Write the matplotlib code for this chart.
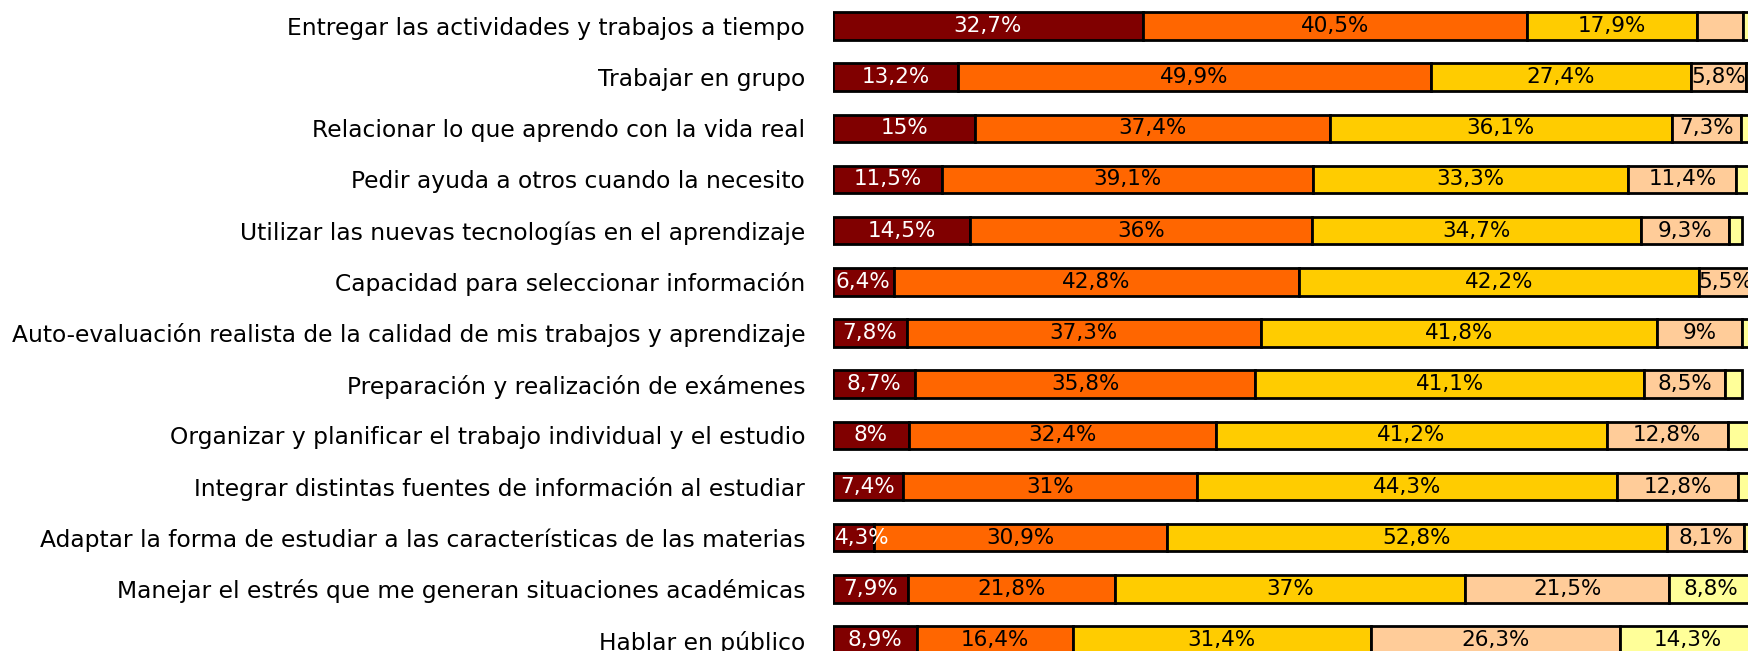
import matplotlib.pyplot as plt
import numpy as np

categorias = [
    'Entregar las actividades y trabajos a tiempo',
    'Trabajar en grupo',
    'Relacionar lo que aprendo con la vida real',
    'Pedir ayuda a otros cuando la necesito',
    'Utilizar las nuevas tecnologías en el aprendizaje',
    'Capacidad para seleccionar información',
    'Auto-evaluación realista de la calidad de mis trabajos y aprendizaje',
    'Preparación y realización de exámenes',
    'Organizar y planificar el trabajo individual y el estudio',
    'Integrar distintas fuentes de información al estudiar',
    'Adaptar la forma de estudiar a las características de las materias',
    'Manejar el estrés que me generan situaciones académicas',
    'Hablar en público',
]

# porcentaje de respuestas por nivel (de mayor a menor dominio)
nivel_1 = [32.7, 13.2, 15, 11.5, 14.5, 6.4, 7.8, 8.7, 8, 7.4, 4.3, 7.9, 8.9]
nivel_2 = [40.5, 49.9, 37.4, 39.1, 36, 42.8, 37.3, 35.8, 32.4, 31, 30.9, 21.8, 16.4]
nivel_3 = [17.9, 27.4, 36.1, 33.3, 34.7, 42.2, 41.8, 41.1, 41.2, 44.3, 52.8, 37, 31.4]
nivel_4 = [4.9, 5.8, 7.3, 11.4, 9.3, 5.5, 9, 8.5, 12.8, 12.8, 8.1, 21.5, 26.3]
nivel_5 = [2.5, 2.0, 2.5, 3.0, 1.4, 1.5, 2.5, 1.8, 4.0, 3.0, 2.5, 8.8, 14.3]

series = [nivel_1, nivel_2, nivel_3, nivel_4, nivel_5]
colores = ['#800000', '#FF6600', '#FFCC00', '#FFCC99', '#FFFF99']
color_texto = ['white', 'black', 'black', 'black', 'black']

fig = plt.figure(figsize=(17.49, 6.51), dpi=100)
# el eje sigue más allá del borde derecho de la figura
ax = fig.add_axes([833 / 1749, 0, 948 / 1749, 1])

y = np.arange(len(categorias))
izq = np.zeros(len(categorias))
for k, (vals, col) in enumerate(zip(series, colores)):
    vals = np.array(vals, dtype=float)
    ax.barh(y, vals, left=izq, height=0.54, color=col,
            edgecolor='black', linewidth=2)
    for i, v in enumerate(vals):
        if k >= 3 and v < 5:
            continue
        txt = f'{v:g}'.replace('.', ',') + '%'
        if v < 5:
            # tramo estrecho: la etiqueta arranca en el borde del tramo
            ax.text(izq[i] + 0.2, y[i], txt, ha='left', va='center',
                    color=color_texto[k], fontsize=15.5)
        else:
            ax.text(izq[i] + v / 2, y[i], txt, ha='center', va='center',
                    color=color_texto[k], fontsize=15.5)
    izq += vals

ax.set_xlim(0, 100)
ax.set_ylim(y[-1] + (651 - 640) / 51.2, -26 / 51.2)
ax.set_yticks(y)
ax.set_yticklabels(categorias, fontsize=16.8)
ax.tick_params(axis='y', length=0, pad=20)
ax.set_xticks([])
for s in ax.spines.values():
    s.set_visible(False)

fig.savefig('out.png', dpi=100)
